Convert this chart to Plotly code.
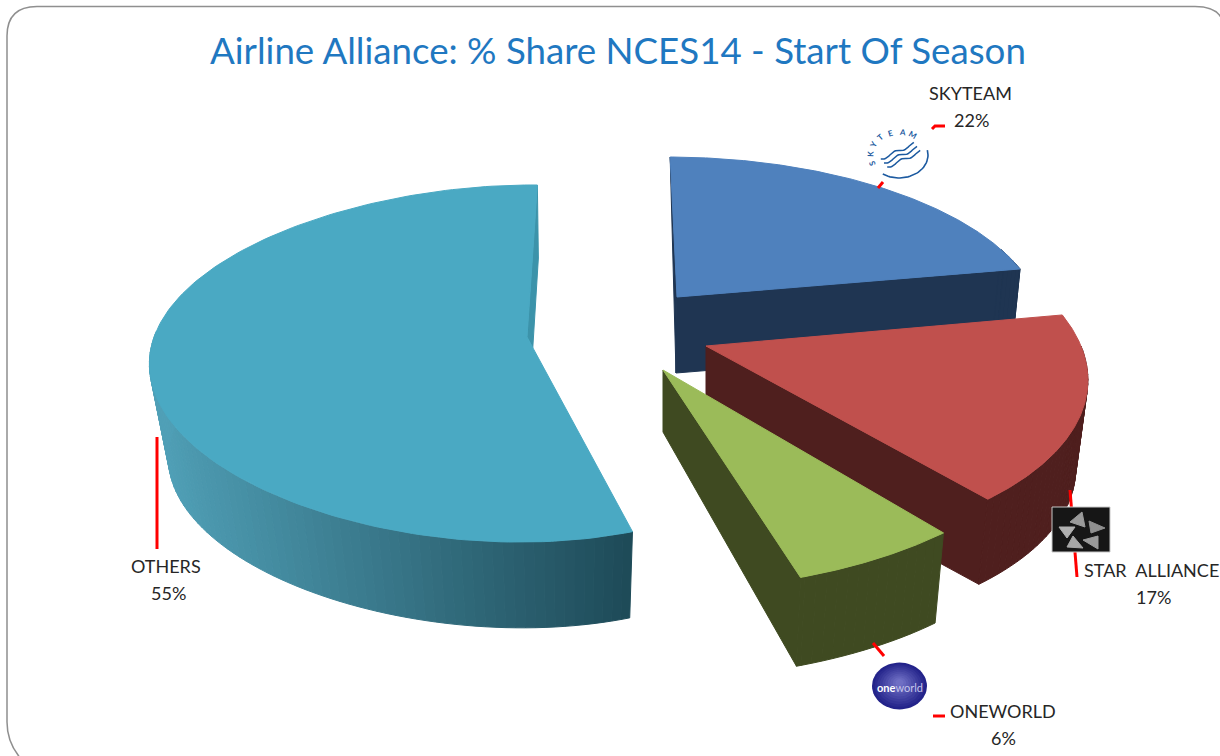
import numpy as np
import plotly.graph_objects as go

# ---- data ----
alliances = ["SKYTEAM", "STAR  ALLIANCE", "ONEWORLD", "OTHERS"]
shares = [22, 17, 6, 55]
title_text = "Airline Alliance: % Share NCES14 - Start Of Season"

# ---- per-slice look (projected 3D exploded pie) ----
view = {
    "SKYTEAM":        dict(ax=677, ay=297, rx=360, ry=161, p=.15, s=11, q=0, rot=.5, d=76, k=.98, bx=-1, inner=76, side=72),
    "STAR  ALLIANCE": dict(ax=706, ay=346, rx=375, ry=175, p=.15, s=15, q=0, rot=.3, d=90, k=.968, bx=0, inner=90, side=90),
    "ONEWORLD":       dict(ax=663, ay=370, rx=394, ry=187, p=.15, s=-4, q=0, rot=0, d=95, k=.97, bx=0, inner=62, side=0),
    "OTHERS":         dict(ax=527, ay=337, rx=339, ry=174.6, p=.1486, s=-6, q=.1, rot=1, d=95, k=.955, bx=2, inner=0, side=0),
}
top_col = {"SKYTEAM": "#4f81bd", "STAR  ALLIANCE": "#c0504d", "ONEWORLD": "#9bbb59", "OTHERS": "#4aa9c3"}
side_a = {"SKYTEAM": "#1f3552", "STAR  ALLIANCE": "#4f1f1e", "ONEWORLD": "#3f4a21", "OTHERS": "#50a0b7"}
side_b = {"SKYTEAM": "#1f3552", "STAR  ALLIANCE": "#4f1f1e", "ONEWORLD": "#3f4a21", "OTHERS": "#1e4a57"}

fig = go.Figure()


def poly(x, y, color, line=True, line_color=None):
    fig.add_trace(go.Scatter(x=list(x), y=list(y), fill="toself", fillcolor=color, mode="lines",
                             line=dict(color=line_color or color, width=1 if line else 0),
                             hoverinfo="skip", showlegend=False))


def project(v, theta, bottom=False):
    t = np.radians(theta)
    u, w = np.sin(t), -np.cos(t)
    f = 1 / (1 - v["p"] * w)
    xx, yy = (v["rx"] * u * (1 - v["q"] * u) + v["s"] * w) * f, v["ry"] * w * f
    if bottom:
        return v["ax"] + v["bx"] + xx * v["k"], v["ay"] + v["d"] + yy * v["k"]
    return v["ax"] + xx, v["ay"] + yy


def mix(a, b, t):
    ca = [int(a[i:i + 2], 16) for i in (1, 3, 5)]
    cb = [int(b[i:i + 2], 16) for i in (1, 3, 5)]
    return "#%02x%02x%02x" % tuple(int(round(p + (q - p) * t)) for p, q in zip(ca, cb))


# angles come from the shares only
total = sum(shares)
edges = np.cumsum([0] + [s / total * 360 for s in shares])
spans = {n: (edges[i] + view[n]["rot"], edges[i + 1] + view[n]["rot"]) for i, n in enumerate(alliances)}


def draw_side(name, a0, a1):
    v = view[name]
    th = np.arange(a0, a1 + 1.5, 1.5)
    th[-1] = a1
    xs = [project(v, t)[0] for t in th]
    lo, hi = min(xs), max(xs)
    for t0, t1 in zip(th[:-1], th[1:]):
        x0, y0 = project(v, t0)
        x1, y1 = project(v, t1)
        x2, y2 = project(v, t1, True)
        x3, y3 = project(v, t0, True)
        frac = ((x0 + x1) / 2 - lo) / (hi - lo)
        poly([x0, x1, x2, x3, x0], [y0, y1, y2, y3, y0], mix(side_a[name], side_b[name], frac))


def draw_top(name):
    v, (a0, a1) = view[name], spans[name]
    th = np.linspace(a0, a1, 160)
    pts = [project(v, t) for t in th]
    poly([v["ax"]] + [p[0] for p in pts] + [v["ax"]], [v["ay"]] + [p[1] for p in pts] + [v["ay"]], top_col[name])


def draw_inner(name, theta):
    v = view[name]
    x0, y0 = project(v, theta)
    xb, yb = project(v, theta, True)
    poly([v["ax"], x0, xb, v["ax"] + v["bx"], v["ax"]],
         [v["ay"], y0, yb, v["ay"] + v["inner"], v["ay"]], side_a[name])


# OTHERS: side (front-left part), small visible inner face, top
n = "OTHERS"
draw_side(n, spans[n][0], 272)
v = view[n]
sx, sy = project(v, spans[n][1])
ex, ey = project(v, spans[n][0])
poly([sx, sx + 1, v["ax"] + (ex - v["ax"]) * .055, v["ax"], sx],
     [sy, sy + 73, v["ay"] + (ey - v["ay"]) * .055, v["ay"], sy], "#3c93aa")
draw_top(n)

# SKYTEAM
n = "SKYTEAM"
v = view[n]
sx, sy = project(v, spans[n][0])
poly([sx, v["ax"] + v["bx"], v["ax"], sx], [sy, v["ay"] + v["d"], v["ay"], sy], side_a[n])
draw_inner(n, spans[n][1])
draw_side(n, v["side"], spans[n][1])
draw_top(n)

# STAR ALLIANCE
n = "STAR  ALLIANCE"
draw_inner(n, spans[n][1])
draw_side(n, view[n]["side"], spans[n][1])
draw_top(n)

# ONEWORLD
n = "ONEWORLD"
draw_inner(n, spans[n][1])
draw_side(n, spans[n][0], spans[n][1])
draw_top(n)

# ---- leader lines ----
leaders = [
    ([932, 935, 945], [129, 126, 126]),
    ([878, 883], [188, 182]),
    ([1070, 1077], [490, 577]),
    ([873, 884], [643, 656]),
    ([933, 945], [716, 716]),
    ([157, 157], [437, 549]),
]
for lx, ly in leaders:
    fig.add_trace(go.Scatter(x=lx, y=ly, mode="lines", line=dict(color="#ff0000", width=3),
                             hoverinfo="skip", showlegend=False))

# ---- logos ----
# SkyTeam
th = np.radians(np.arange(0, 361, 6))
cx, cy, arx, ary = 899, 155, 29, 23
poly(cx + arx * np.cos(th), cy + ary * np.sin(th), "#ffffff")
th2 = np.radians(np.arange(-12, 125, 4))
fig.add_trace(go.Scatter(x=cx + arx * np.cos(th2), y=cy + ary * np.sin(th2), mode="lines",
                         line=dict(color="#1c5aa0", width=1.6), hoverinfo="skip", showlegend=False))
for i, ch in enumerate("SKYTEAM"):
    ang = np.radians(160 + i * 23.3)
    fig.add_annotation(x=cx + arx * np.cos(ang), y=cy + ary * np.sin(ang), text=f"<b>{ch}</b>", showarrow=False,
                       textangle=np.degrees(ang) + 90, font=dict(family="Lato", size=8, color="#1c5aa0"))
swirl_t = np.linspace(0, 1, 30)
for off in (-4, 0, 4):
    fig.add_trace(go.Scatter(x=cx - 15 + off * .8 + 33 * swirl_t,
                             y=cy + off + 8 - 15 * swirl_t + 1.6 * np.sin(swirl_t * 11),
                             mode="lines", line=dict(color="#1c5aa0", width=1.5), hoverinfo="skip", showlegend=False))

# Star Alliance
poly([1052, 1110, 1110, 1052, 1052], [507, 507, 552, 552, 507], "#161616", line_color="#c8c8c8")
stars = [
    ([1070, 1082, 1085], [522, 512, 527]),
    ([1089, 1105, 1091], [521, 528, 533]),
    ([1059, 1075, 1067], [527, 527, 538]),
    ([1067, 1073, 1083], [547, 536, 548]),
    ([1083, 1098, 1098], [540, 536, 549]),
]
star_fill = ["#9a9a9a", "#8f8f8f", "#b0b0b0", "#a6a6a6", "#9a9a9a"]
for (sxx, syy), c in zip(stars, star_fill):
    poly(sxx + sxx[:1], syy + syy[:1], c)

# oneworld
cx, cy, arx, ary = 899.5, 686, 27.5, 23.5
for r, c in zip(np.linspace(1, .15, 10), np.linspace(0, 1, 10)):
    poly(cx + arx * r * np.cos(th), cy - 4 * (1 - r) + ary * r * np.sin(th), mix("#23238a", "#6f6fc4", c), line=False)
fig.add_annotation(x=cx, y=cy + 1, text="<b>one</b><span style='color:#c4c4ea'>world</span>", showarrow=False,
                   font=dict(family="Lato", size=11, color="#ffffff"))

# ---- data labels ----
label_pos = {
    "SKYTEAM": (970, 93, 971, 120),
    "STAR  ALLIANCE": (1151, 570, 1153, 597),
    "ONEWORLD": (1003, 711, 1003, 738),
    "OTHERS": (166, 566, 168, 593),
}
for name, share in zip(alliances, shares):
    x1, y1, x2, y2 = label_pos[name]
    fig.add_annotation(x=x1, y=y1, text=name.replace("  ", "&nbsp; "), showarrow=False, font=dict(family="Lato", size=18, color="#262626"))
    fig.add_annotation(x=x2, y=y2, text=f"{share}%", showarrow=False, font=dict(family="Lato", size=18, color="#262626"))

fig.add_annotation(x=618, y=50, text=title_text, showarrow=False, font=dict(family="Lato", size=36.7, color="#1f78c1"))

# chart frame
fig.add_shape(type="path", path="M 24 762 Q 7 745 7 722 L 7 36 Q 7 6.5 37 6.5 L 1195 6.5 Q 1224 6.5 1224 30",
              line=dict(color="#8f8f8f", width=1.5), layer="below")

fig.update_layout(width=1220, height=756, margin=dict(l=0, r=0, t=0, b=0), showlegend=False,
                  paper_bgcolor="#ffffff", plot_bgcolor="#ffffff",
                  xaxis=dict(range=[0, 1220], visible=False, fixedrange=True),
                  yaxis=dict(range=[756, 0], visible=False, fixedrange=True))
fig.write_html("out.html", config={"displayModeBar": False}, post_script="document.body.style.margin='0';")
